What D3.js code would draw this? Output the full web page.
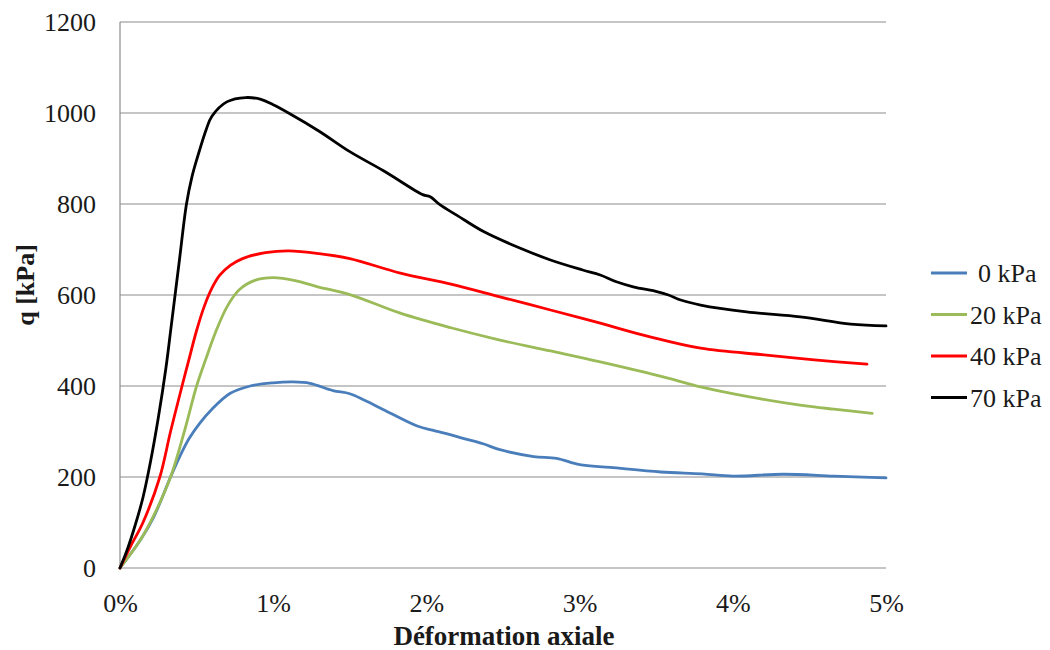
<!DOCTYPE html>
<html>
<head>
<meta charset="utf-8">
<script src="https://cdn.jsdelivr.net/npm/d3@7"></script>
<style>
  html, body { margin: 0; padding: 0; background: #fff; }
  svg { display: block; }
  text { font-family: "Liberation Serif", "Times New Roman", serif; fill: #1a1a1a; }
</style>
</head>
<body>
<svg id="chart" width="1050" height="650"></svg>
<script>
// ---- data (axial strain in %, deviator stress q in kPa) ----
const seriesNames = ["0 kPa", "20 kPa", "40 kPa", "70 kPa"];
const seriesColors = ["#4a7ebb", "#9bbb59", "#ff0000", "#000000"];

const strain0 = [0, 0.134, 0.22, 0.33, 0.39, 0.45, 0.52, 0.6, 0.72, 0.85, 1.0, 1.13, 1.24, 1.39, 1.5, 1.6, 1.72, 1.94, 2.05, 2.11, 2.24, 2.37, 2.48, 2.7, 2.85, 3.0, 3.2, 3.53, 3.8, 4.0, 4.33, 4.66, 5.0];
const q0      = [0, 62, 112, 200, 245, 284, 318, 349, 384, 400, 407, 409, 406, 390, 383, 368, 348, 312, 302, 297, 285, 273, 260, 245, 241, 227, 221, 211, 207, 202, 206, 202, 198];

const strain20 = [0, 0.134, 0.22, 0.33, 0.42, 0.5, 0.558, 0.62, 0.7, 0.78, 0.88, 1.0, 1.15, 1.29, 1.5, 1.83, 2.16, 2.48, 2.81, 3.135, 3.57, 3.79, 4.11, 4.44, 4.66, 4.91];
const q20      = [0, 62, 115, 200, 300, 400, 457, 515, 575, 612, 632, 638, 631, 618, 601, 560, 528, 501, 477, 453, 418, 398, 376, 358, 349, 340];

const strain40 = [0, 0.068, 0.15, 0.26, 0.33, 0.405, 0.449, 0.5, 0.55, 0.6, 0.65, 0.72, 0.8, 0.95, 1.1, 1.3, 1.5, 1.83, 2.16, 2.48, 2.81, 3.135, 3.46, 3.79, 4.22, 4.55, 4.876];
const q40      = [0, 47, 100, 200, 300, 400, 457, 522, 575, 615, 643, 665, 680, 693, 697, 691, 680, 648, 624, 596, 567, 538, 508, 483, 468, 457, 448];

const strain70 = [0, 0.047, 0.1, 0.15, 0.2, 0.25, 0.3, 0.33, 0.388, 0.434, 0.47, 0.503, 0.564, 0.6, 0.7, 0.82, 0.92, 1.0, 1.1, 1.3, 1.5, 1.72, 1.94, 1.98, 2.025, 2.09, 2.2, 2.37, 2.59, 2.81, 3.02, 3.135, 3.24, 3.35, 3.51, 3.58, 3.66, 3.79, 4.09, 4.44, 4.77, 5.0];
const q70      = [0, 40, 95, 155, 235, 330, 440, 520, 677, 800, 860, 900, 965, 993, 1025, 1034, 1030, 1018, 1000, 960, 915, 873, 827, 820, 816, 798, 775, 740, 706, 677, 655, 644, 629, 618, 607, 600, 589, 578, 563, 552, 536, 532];

const strainSeries = [strain0, strain20, strain40, strain70];
const qSeries = [q0, q20, q40, q70];

const xTicks = [0, 0.01, 0.02, 0.03, 0.04, 0.05];
const yTicks = [0, 200, 400, 600, 800, 1000, 1200];
const xTitle = "Déformation axiale";
const yTitle = "q [kPa]";

// ---- layout ----
const svg = d3.select("#chart");
const plotLeft = 120, plotRight = 886, plotTop = 22, plotBottom = 568;

const x = d3.scaleLinear().domain([0, 0.05]).range([plotLeft, plotRight]);
const y = d3.scaleLinear().domain([0, 1200]).range([plotBottom, plotTop]);

// gridlines
svg.append("g")
  .selectAll("line")
  .data(yTicks)
  .join("line")
  .attr("x1", plotLeft).attr("x2", plotRight)
  .attr("y1", d => y(d)).attr("y2", d => y(d))
  .attr("stroke", "#8c8c8c").attr("stroke-width", 1.2);

// left axis line
svg.append("line")
  .attr("x1", plotLeft).attr("x2", plotLeft)
  .attr("y1", plotTop).attr("y2", plotBottom)
  .attr("stroke", "#8c8c8c").attr("stroke-width", 1.2);

// y axis labels
const yAxis = d3.axisLeft(y).tickValues(yTicks).tickSize(0).tickPadding(24).tickFormat(d3.format("d"));
const gy = svg.append("g").attr("transform", `translate(${plotLeft},0)`).call(yAxis)
  .attr("font-family", "Liberation Serif").attr("font-size", 26);
gy.select(".domain").remove();
gy.selectAll("text").style("font-size", "26px").style("font-family", "Liberation Serif").attr("fill", "#1a1a1a");

// x axis labels
const xAxis = d3.axisBottom(x).tickValues(xTicks).tickSize(0).tickPadding(26).tickFormat(d3.format(".0%"));
const gx = svg.append("g").attr("transform", `translate(0,${plotBottom})`).call(xAxis)
  .attr("font-family", "Liberation Serif").attr("font-size", 26);
gx.select(".domain").remove();
gx.selectAll("text").style("font-size", "26px").style("font-family", "Liberation Serif").attr("fill", "#1a1a1a");

// series lines
const line = d3.line()
  .x(d => x(d[0] / 100))
  .y(d => y(d[1]))
  .curve(d3.curveCatmullRom.alpha(0.5));

strainSeries.forEach((s, i) => {
  const pts = s.map((v, j) => [v, qSeries[i][j]]);
  svg.append("path")
    .datum(pts)
    .attr("d", line)
    .attr("fill", "none")
    .attr("stroke", seriesColors[i])
    .attr("stroke-width", 2.8)
    .attr("stroke-linejoin", "round")
    .attr("stroke-linecap", "round");
});

// legend
const legend = svg.append("g");
seriesNames.forEach((name, i) => {
  const ly = 273 + i * 41.5;
  legend.append("line")
    .attr("x1", 931).attr("x2", 967)
    .attr("y1", ly).attr("y2", ly)
    .attr("stroke", seriesColors[i]).attr("stroke-width", 2.8);
  legend.append("text")
    .attr("x", i === 0 ? 978 : 970).attr("y", ly)
    .attr("dy", "0.35em")
    .style("font-size", "26px")
    .text(name);
});

// axis titles
svg.append("text")
  .attr("x", 504).attr("y", 645)
  .attr("text-anchor", "middle")
  .style("font-size", "27px").style("font-weight", "bold")
  .text(xTitle);

svg.append("text")
  .attr("transform", `translate(34,285) rotate(-90)`)
  .attr("text-anchor", "middle")
  .style("font-size", "26px").style("font-weight", "bold")
  .text(yTitle);
</script>
</body>
</html>
